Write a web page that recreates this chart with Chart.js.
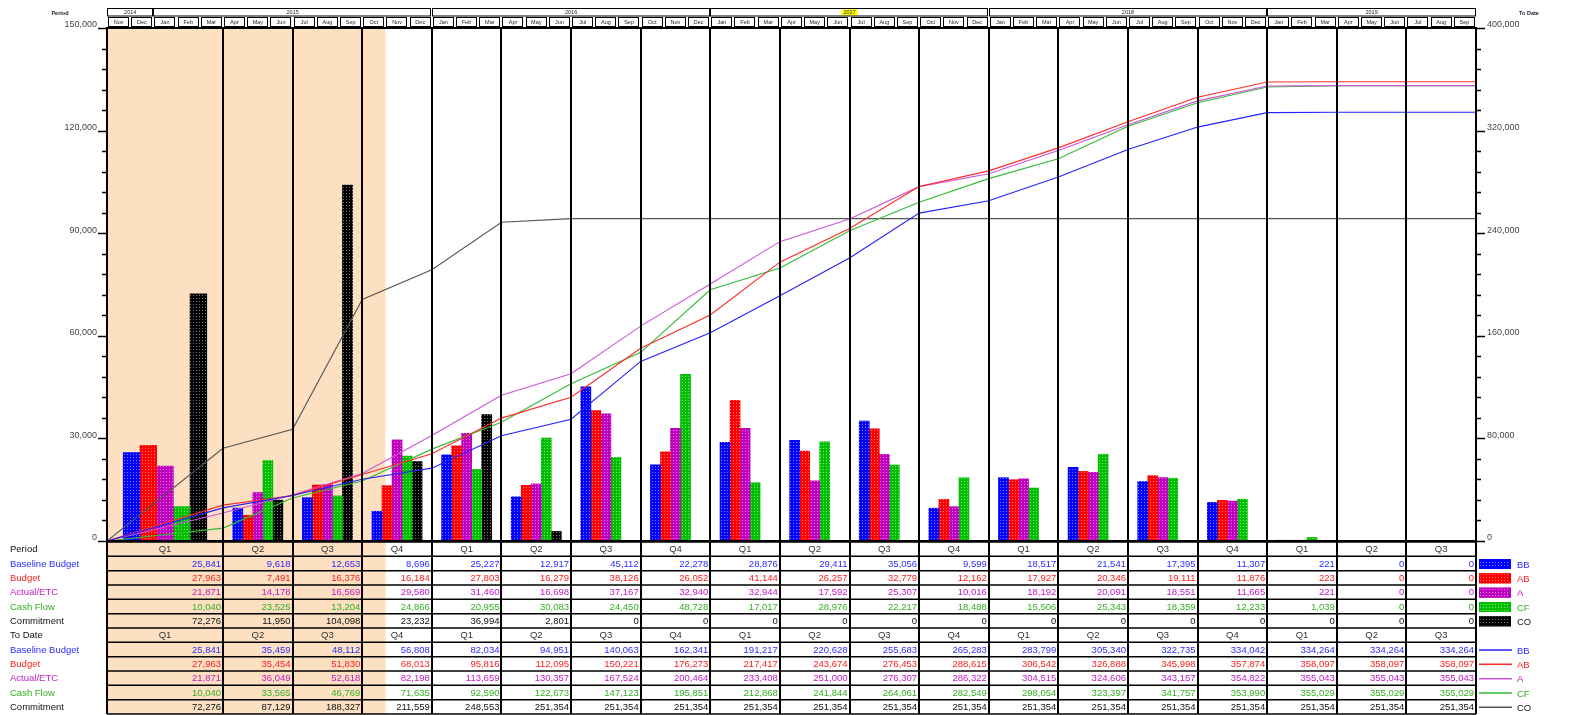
<!DOCTYPE html>
<html>
<head>
<meta charset="utf-8">
<script src="https://cdn.jsdelivr.net/npm/chart.js@4.4.1/dist/chart.umd.min.js"></script>
<style>
  html, body { margin: 0; padding: 0; background: #ffffff; }
  canvas { display: block; }
</style>
</head>
<body>
<canvas id="c" width="1579" height="715"></canvas>
<script>
// Reporting calendar (months are counted from firstMonth)
const firstMonth = '2014-11';
const lastMonth = '2019-09';
const years = ['2014', '2015', '2016', '2017', '2018', '2019'];
const highlightYear = '2017';
const monthNames = ['Jan', 'Feb', 'Mar', 'Apr', 'May', 'Jun', 'Jul', 'Aug', 'Sep', 'Oct', 'Nov', 'Dec'];
const actualsUntil = '2015-11';   // actuals span ends at the start of this month

// Reporting periods
const periodStarts = ['2014-11', '2015-04', '2015-07', '2015-10',
  '2016-01', '2016-04', '2016-07', '2016-10',
  '2017-01', '2017-04', '2017-07', '2017-10',
  '2018-01', '2018-04', '2018-07', '2018-10',
  '2019-01', '2019-04', '2019-07'];
const periodLabels = ['Q1', 'Q2', 'Q3', 'Q4', 'Q1', 'Q2', 'Q3', 'Q4', 'Q1', 'Q2', 'Q3', 'Q4',
  'Q1', 'Q2', 'Q3', 'Q4', 'Q1', 'Q2', 'Q3'];

// Period values
const baselineBudget = [25841, 9618, 12653, 8696, 25227, 12917, 45112, 22278, 28876, 29411, 35056, 9599,
  18517, 21541, 17395, 11307, 221, 0, 0];
const budget = [27963, 7491, 16376, 16184, 27803, 16279, 38126, 26052, 41144, 26257, 32779, 12162,
  17927, 20346, 19111, 11876, 223, 0, 0];
const actualEtc = [21871, 14178, 16569, 29580, 31460, 16698, 37167, 32940, 32944, 17592, 25307, 10016,
  18192, 20091, 18551, 11665, 221, 0, 0];
const cashFlow = [10040, 23525, 13204, 24866, 20955, 30083, 24450, 48728, 17017, 28976, 22217, 18488,
  15506, 25343, 18359, 12233, 1039, 0, 0];
const commitment = [72276, 11950, 104098, 23232, 36994, 2801, 0, 0, 0, 0, 0, 0,
  0, 0, 0, 0, 0, 0, 0];

// To-date values
const baselineBudgetToDate = [25841, 35459, 48112, 56808, 82034, 94951, 140063, 162341, 191217, 220628, 255683, 265283,
  283799, 305340, 322735, 334042, 334264, 334264, 334264];
const budgetToDate = [27963, 35454, 51830, 68013, 95816, 112095, 150221, 176273, 217417, 243674, 276453, 288615,
  306542, 326888, 345998, 357874, 358097, 358097, 358097];
const actualEtcToDate = [21871, 36049, 52618, 82198, 113659, 130357, 167524, 200464, 233408, 251000, 276307, 286322,
  304515, 324606, 343157, 354822, 355043, 355043, 355043];
const cashFlowToDate = [10040, 33565, 46769, 71635, 92590, 122673, 147123, 195851, 212868, 241844, 264061, 282549,
  298054, 323397, 341757, 353990, 355029, 355029, 355029];
const commitmentToDate = [72276, 87129, 188327, 211559, 248553, 251354, 251354, 251354, 251354, 251354, 251354, 251354,
  251354, 251354, 251354, 251354, 251354, 251354, 251354];

// Axis ranges
const periodAxisMax = 150000, periodAxisStep = 30000, periodAxisMinor = 6000;
const toDateAxisMax = 400000, toDateAxisStep = 80000, toDateAxisMinor = 16000;

const FONT = "'Liberation Sans', Arial, sans-serif";
const SHADE = '#fde0c2';
const CANVAS_W = 1579;
const LEFT_AXIS_W = 107, RIGHT_AXIS_W = 103;
const GROUP_FRACTION = 0.72;   // share of a period taken by its bar group

const series = [
  { code: 'BB', name: 'Baseline Budget', period: baselineBudget, toDate: baselineBudgetToDate,
    fill: '#0000ff', dot: '#7d7dff', text: '#2c2cff', line: '#2222ff' },
  { code: 'AB', name: 'Budget', period: budget, toDate: budgetToDate,
    fill: '#ff0000', dot: '#ff8080', text: '#ff1c1c', line: '#ff2a2a' },
  { code: 'A', name: 'Actual/ETC', period: actualEtc, toDate: actualEtcToDate,
    fill: '#bf00bf', dot: '#dd80dd', text: '#c21ac2', line: '#cc55dd' },
  { code: 'CF', name: 'Cash Flow', period: cashFlow, toDate: cashFlowToDate,
    fill: '#00bf00', dot: '#80df80', text: '#33b022', line: '#33bb33' },
  { code: 'CO', name: 'Commitment', period: commitment, toDate: commitmentToDate,
    fill: '#000000', dot: '#7a7a7a', text: '#111111', line: '#555555' }
];

function monthIndex(s) {
  const [y, m] = s.split('-').map(Number);
  const [y0, m0] = firstMonth.split('-').map(Number);
  return (y - y0) * 12 + (m - m0);
}
const totalMonths = monthIndex(lastMonth) + 1;
const edges = periodStarts.map(monthIndex).concat(totalMonths);
const mids = edges.slice(0, -1).map((e, i) => (e + edges[i + 1]) / 2);
const monthPx = (CANVAS_W - LEFT_AXIS_W - RIGHT_AXIS_W) / totalMonths;

const canvas = document.getElementById('c');
const ctx0 = canvas.getContext('2d');

// Dotted fill used by the bars and the legend swatches
function dotted(color, dot) {
  const tile = document.createElement('canvas');
  tile.width = 3; tile.height = 3;
  const g = tile.getContext('2d');
  g.fillStyle = color; g.fillRect(0, 0, 3, 3);
  g.fillStyle = dot; g.fillRect(1, 1, 1, 1);
  return ctx0.createPattern(tile, 'repeat');
}
series.forEach(s => { s.pattern = dotted(s.fill, s.dot); });

// Bars: each series takes one slot of the period's bar group.
// The first period is longer, so its bars form a separate dataset with wider slots.
const datasets = [];
const nSeries = series.length;
series.forEach((s, k) => {
  const groups = [[0], periodLabels.map((_, i) => i).slice(1)];
  groups.forEach(idx => {
    const span = edges[idx[0] + 1] - edges[idx[0]];
    const slot = span * GROUP_FRACTION / nSeries;
    datasets.push({
      type: 'bar', label: s.name, xAxisID: 'x', yAxisID: 'y', order: 2,
      grouped: false,
      barThickness: slot * monthPx,
      data: idx.map(i => ({ x: mids[i] + (k - (nSeries - 1) / 2) * slot, y: s.period[i] })),
      backgroundColor: s.pattern, borderWidth: 0
    });
  });
});
// To-date lines, starting from zero at the beginning of the first period
series.forEach(s => {
  datasets.push({
    type: 'line', label: s.name + ' To Date', xAxisID: 'x', yAxisID: 'y2', order: 1,
    data: [{ x: edges[0], y: 0 }].concat(s.toDate.map((v, i) => ({ x: edges[i + 1], y: v }))),
    borderColor: s.line, borderWidth: 1.1, pointRadius: 0, tension: 0, fill: false
  });
});

function tableGeom(chart) {
  const top = chart.chartArea.bottom + 1;
  const rows = 12;
  const rowH = (chart.height - 1 - top) / rows;
  return { top, rows, rowH, bottom: top + rows * rowH };
}

const frame = {
  id: 'frame',
  beforeDatasetsDraw(chart) {
    const { ctx, chartArea: a } = chart;
    const px = v => chart.scales.x.getPixelForValue(v);
    const t = tableGeom(chart);
    const shadeRight = px(monthIndex(actualsUntil));
    ctx.save();
    ctx.fillStyle = SHADE;
    ctx.fillRect(a.left, a.top, shadeRight - a.left, a.bottom - a.top);
    ctx.fillRect(a.left, t.top, shadeRight - a.left, t.bottom - t.top);
    ctx.restore();
  },
  afterDatasetsDraw(chart) {
    const { ctx, chartArea: a } = chart;
    const px = v => chart.scales.x.getPixelForValue(v);
    const yL = chart.scales.y, yR = chart.scales.y2;
    const t = tableGeom(chart);
    ctx.save();

    // period separators through plot and table
    ctx.strokeStyle = '#000';
    ctx.lineWidth = 2;
    edges.forEach(e => {
      const x = Math.round(px(e));
      ctx.beginPath(); ctx.moveTo(x, a.top); ctx.lineTo(x, t.bottom); ctx.stroke();
    });
    ctx.beginPath(); ctx.moveTo(a.left - 1, a.top); ctx.lineTo(a.right + 1, a.top); ctx.stroke();
    ctx.beginPath(); ctx.moveTo(a.left - 1, a.bottom); ctx.lineTo(a.right + 1, a.bottom); ctx.stroke();

    // table rows
    ctx.lineWidth = 1.5;
    for (let r = 0; r <= t.rows; r++) {
      const y = t.top + r * t.rowH;
      ctx.beginPath(); ctx.moveTo(a.left, y); ctx.lineTo(a.right, y); ctx.stroke();
    }

    // axis ticks (major and minor)
    ctx.lineWidth = 1.5;
    for (let v = 0; v <= periodAxisMax; v += periodAxisMinor) {
      const y = Math.round(yL.getPixelForValue(v)) + 0.5;
      const len = v % periodAxisStep === 0 ? 9 : 5;
      ctx.beginPath(); ctx.moveTo(a.left - len, y); ctx.lineTo(a.left, y); ctx.stroke();
    }
    for (let v = 0; v <= toDateAxisMax; v += toDateAxisMinor) {
      const y = Math.round(yR.getPixelForValue(v)) + 0.5;
      const len = v % toDateAxisStep === 0 ? 9 : 5;
      ctx.beginPath(); ctx.moveTo(a.right, y); ctx.lineTo(a.right + len, y); ctx.stroke();
    }

    // table text
    ctx.font = '9.5px ' + FONT;
    ctx.textBaseline = 'middle';
    const rowY = r => t.top + (r + 0.5) * t.rowH + 0.5;
    const headers = [{ row: 0, label: 'Period' }, { row: 6, label: 'To Date' }];
    headers.forEach(h => {
      ctx.fillStyle = '#111';
      ctx.textAlign = 'left';
      ctx.fillText(h.label, 10, rowY(h.row));
      ctx.fillStyle = '#333';
      ctx.textAlign = 'center';
      periodLabels.forEach((q, i) => {
        ctx.fillText(q, (px(edges[i]) + px(edges[i + 1])) / 2, rowY(h.row));
      });
    });
    series.forEach((s, k) => {
      [{ row: 1 + k, vals: s.period }, { row: 7 + k, vals: s.toDate }].forEach(b => {
        ctx.fillStyle = s.text;
        ctx.textAlign = 'left';
        ctx.fillText(s.name, 10, rowY(b.row));
        ctx.textAlign = 'right';
        b.vals.forEach((v, i) => {
          ctx.fillText(v.toLocaleString('en-US'), px(edges[i + 1]) - 2, rowY(b.row));
        });
      });
    });

    // legend: swatches for periods, lines for to-date
    const lx = a.right + 3;
    series.forEach((s, k) => {
      const y1 = rowY(1 + k);
      ctx.fillStyle = s.pattern;
      ctx.fillRect(lx, y1 - 5, 32, 10);
      ctx.lineWidth = 1;
      ctx.strokeStyle = s.fill;
      ctx.strokeRect(lx + 0.5, y1 - 4.5, 31, 9);
      ctx.fillStyle = s.text;
      ctx.textAlign = 'left';
      ctx.font = '9.5px ' + FONT;
      ctx.fillText(s.code, lx + 38, y1 + 1);
      const y2 = rowY(7 + k);
      ctx.strokeStyle = s.line;
      ctx.lineWidth = 1.5;
      ctx.beginPath(); ctx.moveTo(lx, y2); ctx.lineTo(lx + 33, y2); ctx.stroke();
      ctx.fillText(s.code, lx + 38, y2 + 1);
    });

    // calendar header: years and months
    ctx.strokeStyle = '#000';
    ctx.lineWidth = 1;
    ctx.font = '5.5px ' + FONT;
    ctx.textAlign = 'center';
    const y0 = Number(firstMonth.split('-')[0]), m0 = Number(firstMonth.split('-')[1]) - 1;
    years.forEach(yr => {
      const start = Math.max(0, (Number(yr) - y0) * 12 - m0);
      const end = Math.min(totalMonths, (Number(yr) - y0 + 1) * 12 - m0);
      const x1 = px(start), x2 = px(end);
      const cx = (x1 + x2) / 2;
      if (yr === highlightYear) {
        ctx.fillStyle = '#ffff00';
        const w = ctx.measureText(yr).width + 4;
        ctx.fillRect(cx - w / 2, 9.5, w, 6);
      }
      ctx.strokeRect(Math.round(x1) + 0.5, 8.5, Math.round(x2 - x1) - 1, 7.5);
      ctx.fillStyle = '#223';
      ctx.fillText(yr, cx, 12.6);
    });
    for (let m = 0; m < totalMonths; m++) {
      const x1 = px(m), x2 = px(m + 1);
      ctx.strokeRect(Math.round(x1) + 1.5, 17.5, Math.round(x2 - x1) - 3, 9);
      ctx.fillStyle = '#223';
      ctx.fillText(monthNames[(m0 + m) % 12], (x1 + x2) / 2, 22.3);
    }
    ctx.fillStyle = '#223';
    ctx.font = 'bold 5.5px ' + FONT;
    ctx.fillText('Period', 60, 13);
    ctx.fillText('To Date', 1529, 13);

    ctx.restore();
  }
};

new Chart(canvas, {
  type: 'bar',
  data: { datasets },
  plugins: [frame],
  options: {
    responsive: false,
    animation: false,
    devicePixelRatio: 1,
    layout: { padding: { left: 0, right: 0, top: 28, bottom: 174 } },
    plugins: { legend: { display: false }, tooltip: { enabled: false } },
    scales: {
      x: {
        type: 'linear', min: 0, max: totalMonths, display: false, offset: false
      },
      y: {
        type: 'linear', position: 'left', min: 0, max: periodAxisMax,
        grid: { display: false, drawTicks: false }, border: { display: true, color: '#000', width: 2 },
        ticks: { stepSize: periodAxisStep, padding: 10, labelOffset: -3, color: '#444',
          font: { family: FONT, size: 9 } },
        afterFit: s => { s.width = LEFT_AXIS_W; }
      },
      y2: {
        type: 'linear', position: 'right', min: 0, max: toDateAxisMax,
        grid: { display: false, drawTicks: false }, border: { display: true, color: '#000', width: 2 },
        ticks: { stepSize: toDateAxisStep, padding: 11, labelOffset: -3, color: '#444',
          font: { family: FONT, size: 9 } },
        afterFit: s => { s.width = RIGHT_AXIS_W; }
      }
    }
  }
});
</script>
</body>
</html>
